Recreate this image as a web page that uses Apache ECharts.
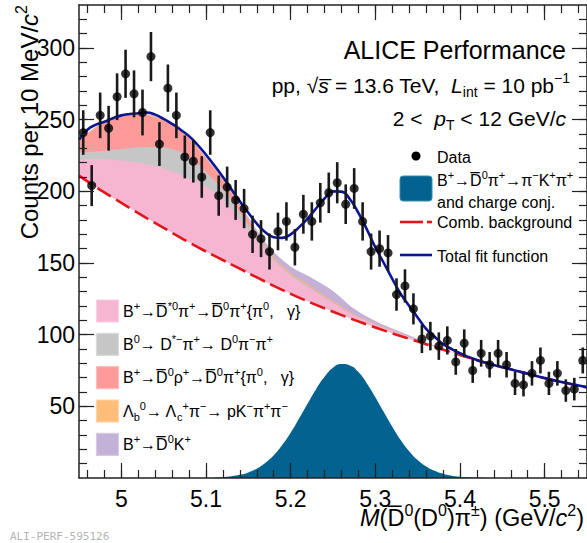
<!DOCTYPE html>
<html>
<head>
<meta charset="utf-8">
<title>B+ invariant mass</title>
<script src="https://cdn.jsdelivr.net/npm/echarts@6/dist/echarts.min.js"></script>
<style>
  html, body { margin: 0; padding: 0; background: #fff; }
  #chart { width: 587px; height: 543px; }
</style>
</head>
<body>
<div id="chart"></div>
<script>
// counts per 10 MeV/c2 bin, first bin starts at 4.95
const counts = [241, 204, 253, 244, 266, 282, 268, 255, 294, 233,
  272, 253, 224, 221, 210, 241, 197, 203, 194, 188,
  170, 167, 158, 172, 179, 161, 184, 179, 192, 199,
  206, 191, 202, 179, 158, 160, 157, 128, 134, 118,
  97, 99, 92, 96, 81, 94, 75, 87, 79, 87,
  79, 66, 65, 73, 82, 66, 73, 61, 62, 82];
const binStart = 4.95;
const binWidth = 0.01;

// total fit function, every 10 MeV from 4.95 to 5.55
const fitTotal = [236, 243, 246.5, 248.5, 251, 253, 254, 254.5, 255, 253.5,
  250.5, 247, 243, 238.5, 232.5, 225.5, 218, 210, 201.5, 193,
  185, 177.5, 171.5, 168, 167.5, 170, 175, 181, 188, 195,
  200, 199.8, 194.5, 185, 173.5, 161, 150, 139, 128.5, 120,
  112, 104, 98.5, 93.5, 90, 87, 84.5, 82.3, 80.5, 78.8,
  77.3, 75.8, 74.3, 72.8, 71.2, 69.7, 68.3, 67, 65.8, 64.6, 63.4];

// combinatorial background, every 25 MeV from 4.95 to 5.55
const combBkg = [211, 201, 192, 183, 174.5, 166, 158, 150.5, 143, 135.5,
  128.5, 122, 116, 110.3, 105, 100, 95.2, 90.5, 85.8, 81.2,
  77.2, 73.5, 69.6, 66.3, 63.2];

// signal B+ -> D0bar pi+, every 10 MeV from 5.11 to 5.43
const signal = [0.3, 0.6, 1.2, 2.2, 3.9, 6.5, 10.4, 15.8, 23, 31.6,
  41.5, 51.9, 62, 70.6, 77, 79.5, 78.5, 73.9, 66, 56.4,
  46, 35.8, 26.5, 18.7, 12.5, 8, 5, 2.9, 1.6, 0.9, 0.5, 0.25, 0.1];

// stacked partially reconstructed templates (upper edges), every 25 MeV from 4.95 to 5.40
const topPurple = [236, 247, 253, 254.5, 250, 240.5, 224, 205, 182, 161, 147.5, 139.5, 130.5, 118, 109.5, 103, 97, 91.3, 85.8];
const topOrange = [235.5, 246.5, 252.5, 254, 249.5, 240, 223, 203.8, 180, 158, 143, 133.5, 123.5, 114.2, 107.6, 102, 96.2, 91, 85.8];
const topSalmon = [235, 246, 252, 253.5, 249, 239.5, 222.4, 203.2, 179.4, 157.5, 142.5, 133, 123, 113.9, 107.4, 101.9, 96.1, 90.9, 85.8];
const topGray = [227, 228, 229.5, 231, 230.5, 226, 213.4, 198.2, 176.9, 156.5, 142, 132.4, 122.6, 113.6, 107.2, 101.8, 96, 90.9, 85.8];
const topPink = [222, 222.5, 221.5, 219.5, 216, 210.5, 203.4, 191.2, 172.9, 154.5, 141, 131.4, 121.9, 113.2, 106.9, 101.6, 95.9, 90.8, 85.8];

const xLabels = [5.0, 5.1, 5.2, 5.3, 5.4, 5.5];
const yLabels = [50, 100, 150, 200, 250, 300];

const F = '"Liberation Sans", Arial, Helvetica, sans-serif';
const xMin = 4.95, xMax = 5.55, yMin = 0, yMax = 330;

const sampled = (start, step, arr) => arr.map((v, i) => [+(start + step * i).toFixed(3), v]);

const xMinor = [];
for (let v = 4.96; v < 5.55; v += 0.02) xMinor.push(+v.toFixed(2));
const yMinor = [];
for (let v = 10; v < 330; v += 10) yMinor.push(v);

const chart = echarts.init(document.getElementById('chart'), null, { renderer: 'svg' });

function axis(kind, pos, ticks, len, line, labels) {
  return {
    type: 'value',
    position: pos,
    min: kind === 'x' ? xMin : yMin,
    max: kind === 'x' ? xMax : yMax,
    z: 20,
    axisLine: { show: line, onZero: false, lineStyle: { color: '#222', width: 1.5 } },
    axisTick: { show: true, inside: true, length: len, customValues: ticks, lineStyle: { color: '#222', width: 1.2 } },
    axisLabel: labels ? {
      customValues: labels, color: '#000', fontSize: 23, fontFamily: F,
      margin: kind === 'x' ? 9 : 4
    } : { show: false },
    splitLine: { show: false }
  };
}

const bands = [
  [topPurple, '#c3b1d8'],
  [topOrange, '#ffbd7a'],
  [topSalmon, '#ff9a9a'],
  [topGray, '#c6c6c6'],
  [topPink, '#f6b6d2']
];

const series = bands.map((b, k) => ({
  type: 'line', silent: true, z: 2 + k,
  data: sampled(4.95, 0.025, b[0]),
  smooth: 0.3, symbol: 'none',
  lineStyle: { width: 0, opacity: 0 },
  areaStyle: { color: b[1], opacity: 1, origin: 'start' }
}));

series.push(
  { // blank out below the combinatorial background
    type: 'line', silent: true, z: 8,
    data: sampled(4.95, 0.025, combBkg),
    smooth: 0.3, symbol: 'none',
    lineStyle: { width: 0, opacity: 0 },
    areaStyle: { color: '#fff', opacity: 1, origin: 'start' }
  },
  {
    type: 'line', silent: true, z: 9,
    data: sampled(5.11, 0.01, signal),
    smooth: true, symbol: 'none',
    lineStyle: { width: 0, opacity: 0 },
    areaStyle: { color: '#03628f', opacity: 1, origin: 'start' }
  },
  {
    type: 'line', silent: true, z: 10,
    data: sampled(4.95, 0.025, combBkg),
    smooth: 0.3, symbol: 'none',
    lineStyle: { color: '#e0161b', width: 2.6, type: [16, 6] }
  },
  {
    type: 'line', silent: true, z: 11,
    data: sampled(4.95, 0.01, fitTotal),
    smooth: true, symbol: 'none',
    lineStyle: { color: '#0c1595', width: 2.6 }
  },
  {
    type: 'custom', silent: true, z: 12,
    data: counts.map((c, i) => [binStart + binWidth * (i + 0.5), c, Math.sqrt(c)]),
    renderItem: (params, api) => {
      const x = api.value(0), y = api.value(1), e = api.value(2);
      const p1 = api.coord([x, y - e]);
      const p2 = api.coord([x, y + e]);
      return {
        type: 'line',
        shape: { x1: p1[0], y1: p1[1], x2: p2[0], y2: p2[1] },
        style: { stroke: '#1a1a1a', lineWidth: 2.6 }
      };
    }
  },
  {
    type: 'scatter', silent: true, z: 13,
    data: counts.map((c, i) => [binStart + binWidth * (i + 0.5), c]),
    symbol: 'circle', symbolSize: 9,
    itemStyle: { color: '#000' }
  }
);

// rich text pieces
const sup = (fs) => ({ fontSize: fs, fontFamily: F, fill: '#000', lineHeight: Math.round(fs * 1.05), verticalAlign: 'top' });
const sub = (fs) => ({ fontSize: fs, fontFamily: F, fill: '#000', lineHeight: Math.round(fs * 1.05), verticalAlign: 'bottom' });
const ital = (fs) => ({ fontSize: fs, fontFamily: F, fill: '#000', fontStyle: 'italic' });

function txt(x, y, text, fs, align, extra) {
  return Object.assign({
    type: 'text', x: x, y: y, z: 100, silent: true,
    style: {
      text: text, fontSize: fs, fontFamily: F, fill: '#000',
      lineHeight: Math.round(fs * 1.35),
      align: align || 'left', verticalAlign: 'middle',
      rich: { u: sup(Math.round(fs * 0.68)), d: sub(Math.round(fs * 0.68)), i: ital(fs) }
    }
  }, extra || {});
}

const Db = 'D\u0305';
const legendBands = [
  ['#f6b6d2', '#f9cfe2', 'B{u|+}→' + Db + '{u|*0}π{u|+}→' + Db + '{u|0}π{u|+}{π{u|0},   γ}'],
  ['#c6c6c6', '#dadada', 'B{u|0}→ D{u|*−}π{u|+}→ D{u|0}π{u|−}π{u|+}'],
  ['#ff9a9a', '#ffbcbc', 'B{u|+}→' + Db + '{u|0}ρ{u|+}→' + Db + '{u|0}π{u|+}{π{u|0},   γ}'],
  ['#ffbd7a', '#ffd3a6', 'Λ{d|b}{u|0}→ Λ{d|c}{u|+}π{u|−}→ pK{u|−}π{u|+}π{u|−}'],
  ['#c3b1d8', '#d6cae4', 'B{u|+}→' + Db + '{u|0}K{u|+}']
];
const legendY = [311, 344.3, 377.7, 411, 444.3];

const graphics = [
  txt(566, 50, 'ALICE Performance', 25, 'right'),
  txt(570, 85, 'pp, √{i|s\u0305} = 13.6 TeV,  {i|L}{d|int} = 10 pb{u|−1}', 21, 'right'),
  txt(566, 118, '2 <  {i|p}{d|T} < 12 GeV/{i|c}', 21, 'right'),
  // top-right legend
  { type: 'circle', z: 100, silent: true, shape: { cx: 416, cy: 156, r: 4.5 }, style: { fill: '#000' } },
  txt(437, 157, 'Data', 16),
  { type: 'rect', z: 100, silent: true, shape: { x: 400, y: 176, width: 32, height: 25, r: 3 }, style: { fill: '#03628f', stroke: '#3f88ad', lineWidth: 1 } },
  txt(437, 191, 'B{u|+}→' + Db + '{u|0}π{u|+}→π{u|−}K{u|+}π{u|+}\nand charge conj.', 16, 'left', {}),
  { type: 'line', z: 100, silent: true, shape: { x1: 400, y1: 222, x2: 423, y2: 222 }, style: { stroke: '#e0161b', lineWidth: 2.6 } },
  { type: 'line', z: 100, silent: true, shape: { x1: 427, y1: 222, x2: 432, y2: 222 }, style: { stroke: '#e0161b', lineWidth: 2.6 } },
  txt(437, 222, 'Comb. background', 16),
  { type: 'line', z: 100, silent: true, shape: { x1: 400, y1: 255, x2: 432, y2: 255 }, style: { stroke: '#0c1595', lineWidth: 2.6 } },
  txt(437, 256, 'Total fit function', 16),
  // axis titles
  txt(29, 5, 'Counts per 10 MeV/{i|c}{u|2}', 24, 'right', { rotation: Math.PI / 2 }),
  txt(584, 518, '{i|M}(' + Db + '{u|0}(D{u|0})π{u|±}) (GeV/{i|c}{u|2})', 23.5, 'right'),
  {
    type: 'text', x: 10, y: 531, z: 100, silent: true,
    style: { text: 'ALI-PERF-595126', fontSize: 11, fontFamily: '"DejaVu Sans Mono", monospace', fill: '#b4b4b4', verticalAlign: 'top' }
  }
];

// the five template boxes on the lower left
legendBands.forEach((b, k) => {
  graphics.push({
    type: 'rect', z: 100, silent: true,
    shape: { x: 96.5, y: legendY[k] - 11, width: 22, height: 22 },
    style: { fill: b[0], stroke: b[1], lineWidth: 1.2 }
  });
  graphics.push(txt(123, legendY[k], b[2], 16));
});

chart.setOption({
  animation: false,
  backgroundColor: '#fff',
  grid: { left: 79, top: 5, width: 510, height: 473, containLabel: false },
  xAxis: [
    axis('x', 'bottom', xLabels, 15, true, xLabels),
    axis('x', 'bottom', xMinor, 8, false, null),
    axis('x', 'top', xLabels, 15, true, null),
    axis('x', 'top', xMinor, 8, false, null)
  ],
  yAxis: [
    axis('y', 'left', yLabels, 15, true, yLabels),
    axis('y', 'left', yMinor, 8, false, null),
    axis('y', 'right', yLabels, 15, true, null),
    axis('y', 'right', yMinor, 8, false, null)
  ],
  series: series,
  graphic: graphics
});

window.addEventListener('resize', () => chart.resize());
</script>
</body>
</html>
